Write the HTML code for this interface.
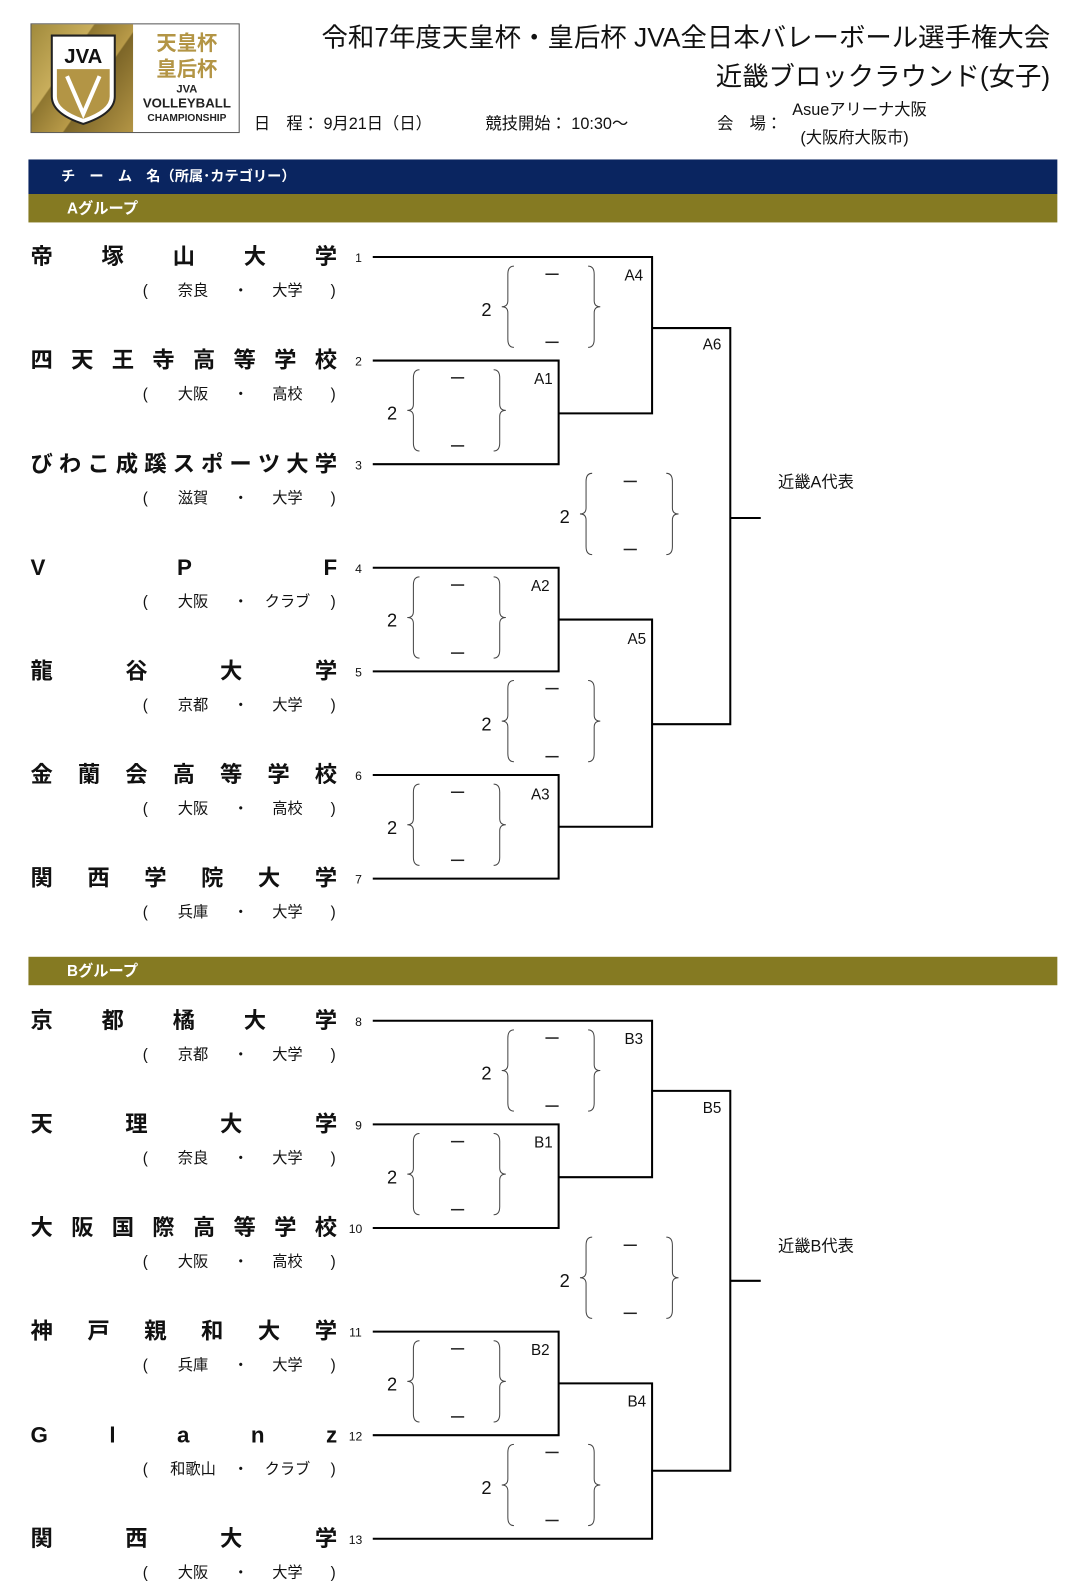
<!DOCTYPE html>
<html><head><meta charset="utf-8">
<style>
html,body{margin:0;padding:0;width:1086px;height:1593px;overflow:hidden;background:#fff}
#w{position:relative;width:1086px;height:1593px;overflow:hidden;font-family:"Liberation Sans","Noto Sans CJK JP",sans-serif;color:#111;transform:scale(1.0157);transform-origin:0 0}
.a{position:absolute}
.tn{position:absolute;left:30px;width:302px;display:flex;justify-content:space-between;font-weight:bold;font-size:22px;line-height:26px;height:26px}
.sub{position:absolute;left:0;width:340px;height:20px;font-size:15px;line-height:20px}
.sub span{position:absolute;top:0;transform:translateX(-50%);white-space:nowrap}
svg{position:absolute;left:0;top:0;display:block}
</style></head><body><div id="w">
<div class="a" style="left:30px;top:23px;width:206px;height:108px;border:1px solid #555;background:#fff;box-sizing:border-box"></div>
<div class="a" style="left:31px;top:24px;width:100px;height:106px;background:linear-gradient(125deg,#a08a3c 0%,#c9ae5c 35%,#8e7630 36%,#b89a48 60%,#7d6628 61%,#b39545 100%)"></div>
<svg width="1086" height="1593" style="pointer-events:none">
<path d="M51,35 L113,35 L113,95 Q113,112 82,122 Q51,112 51,95 Z" fill="#fff" stroke="#222" stroke-width="2"/>
<path d="M56,68 L108,68 L108,95 Q108,108 82,117 Q56,108 56,95 Z" fill="#b39545"/>
<text x="82" y="62" text-anchor="middle" font-family="Liberation Sans" font-weight="bold" font-size="20" fill="#111">JVA</text>
<path d="M66,75 L82,112 L98,75" fill="none" stroke="#fff" stroke-width="4"/>
</svg>
<div class="a" style="left:134px;top:30px;width:100px;text-align:center;color:#b39545;font-weight:bold;font-size:20px;line-height:26px">天皇杯<br>皇后杯</div>
<div class="a" style="left:134px;top:82px;width:100px;text-align:center;font-weight:bold;font-size:11px;line-height:13px;color:#222">JVA<br><span style="font-size:13px">VOLLEYBALL</span><br><span style="font-size:10px">CHAMPIONSHIP</span></div>
<div class="a" style="right:52px;top:18px;font-size:26px;line-height:38px;text-align:right;white-space:nowrap">令和7年度天皇杯・皇后杯 JVA全日本バレーボール選手権大会<br>近畿ブロックラウンド(女子)</div>
<div class="a" style="left:250px;top:108px;font-size:16px;white-space:nowrap">日　程： 9月21日（日）</div>
<div class="a" style="left:478px;top:108px;font-size:16px;white-space:nowrap">競技開始： 10:30〜</div>
<div class="a" style="left:706px;top:108px;font-size:16px;white-space:nowrap">会　場：</div>
<div class="a" style="left:780px;top:94px;font-size:16px;white-space:nowrap">Asueアリーナ大阪</div>
<div class="a" style="left:788px;top:122px;font-size:16px;white-space:nowrap">(大阪府大阪市)</div>
<div class="a" style="left:28px;top:157px;width:1013px;height:34px;background:#0a2560"></div>
<div class="a" style="left:60px;top:163px;color:#fff;font-weight:bold;font-size:14px;white-space:nowrap">チ　ー　ム　名（所属･カテゴリー）</div>
<div class="a" style="left:28px;top:191px;width:1013px;height:28px;background:#857a22"></div>
<div class="a" style="left:66px;top:194px;color:#fff;font-weight:bold;font-size:15px">Aグループ</div>
<div class="a" style="left:28px;top:942px;width:1013px;height:28px;background:#857a22"></div>
<div class="a" style="left:66px;top:945px;color:#fff;font-weight:bold;font-size:15px">Bグループ</div>

<div class="tn" style="top:240px"><span>帝</span><span>塚</span><span>山</span><span>大</span><span>学</span></div>
<div class="tn" style="top:342px"><span>四</span><span>天</span><span>王</span><span>寺</span><span>高</span><span>等</span><span>学</span><span>校</span></div>
<div class="tn" style="top:444px"><span>び</span><span>わ</span><span>こ</span><span>成</span><span>蹊</span><span>ス</span><span>ポ</span><span>ー</span><span>ツ</span><span>大</span><span>学</span></div>
<div class="tn" style="top:546px"><span>V</span><span>P</span><span>F</span></div>
<div class="tn" style="top:648px"><span>龍</span><span>谷</span><span>大</span><span>学</span></div>
<div class="tn" style="top:750px"><span>金</span><span>蘭</span><span>会</span><span>高</span><span>等</span><span>学</span><span>校</span></div>
<div class="tn" style="top:852px"><span>関</span><span>西</span><span>学</span><span>院</span><span>大</span><span>学</span></div>
<div class="tn" style="top:992px"><span>京</span><span>都</span><span>橘</span><span>大</span><span>学</span></div>
<div class="tn" style="top:1094px"><span>天</span><span>理</span><span>大</span><span>学</span></div>
<div class="tn" style="top:1196px"><span>大</span><span>阪</span><span>国</span><span>際</span><span>高</span><span>等</span><span>学</span><span>校</span></div>
<div class="tn" style="top:1298px"><span>神</span><span>戸</span><span>親</span><span>和</span><span>大</span><span>学</span></div>
<div class="tn" style="top:1400px"><span>G</span><span>l</span><span>a</span><span>n</span><span>z</span></div>
<div class="tn" style="top:1502px"><span>関</span><span>西</span><span>大</span><span>学</span></div>

<div class="sub" style="top:277px"><span style="left:143px">(</span><span style="left:190px">奈良</span><span style="left:237px">・</span><span style="left:283px">大学</span><span style="left:328px">)</span></div>
<div class="sub" style="top:379px"><span style="left:143px">(</span><span style="left:190px">大阪</span><span style="left:237px">・</span><span style="left:283px">高校</span><span style="left:328px">)</span></div>
<div class="sub" style="top:481px"><span style="left:143px">(</span><span style="left:190px">滋賀</span><span style="left:237px">・</span><span style="left:283px">大学</span><span style="left:328px">)</span></div>
<div class="sub" style="top:583px"><span style="left:143px">(</span><span style="left:190px">大阪</span><span style="left:237px">・</span><span style="left:283px">クラブ</span><span style="left:328px">)</span></div>
<div class="sub" style="top:685px"><span style="left:143px">(</span><span style="left:190px">京都</span><span style="left:237px">・</span><span style="left:283px">大学</span><span style="left:328px">)</span></div>
<div class="sub" style="top:787px"><span style="left:143px">(</span><span style="left:190px">大阪</span><span style="left:237px">・</span><span style="left:283px">高校</span><span style="left:328px">)</span></div>
<div class="sub" style="top:889px"><span style="left:143px">(</span><span style="left:190px">兵庫</span><span style="left:237px">・</span><span style="left:283px">大学</span><span style="left:328px">)</span></div>
<div class="sub" style="top:1029px"><span style="left:143px">(</span><span style="left:190px">京都</span><span style="left:237px">・</span><span style="left:283px">大学</span><span style="left:328px">)</span></div>
<div class="sub" style="top:1131px"><span style="left:143px">(</span><span style="left:190px">奈良</span><span style="left:237px">・</span><span style="left:283px">大学</span><span style="left:328px">)</span></div>
<div class="sub" style="top:1233px"><span style="left:143px">(</span><span style="left:190px">大阪</span><span style="left:237px">・</span><span style="left:283px">高校</span><span style="left:328px">)</span></div>
<div class="sub" style="top:1335px"><span style="left:143px">(</span><span style="left:190px">兵庫</span><span style="left:237px">・</span><span style="left:283px">大学</span><span style="left:328px">)</span></div>
<div class="sub" style="top:1437px"><span style="left:143px">(</span><span style="left:190px">和歌山</span><span style="left:237px">・</span><span style="left:283px">クラブ</span><span style="left:328px">)</span></div>
<div class="sub" style="top:1539px"><span style="left:143px">(</span><span style="left:190px">大阪</span><span style="left:237px">・</span><span style="left:283px">大学</span><span style="left:328px">)</span></div>

<svg width="1086" height="1593" font-family="Liberation Sans, Noto Sans CJK JP, sans-serif">
<defs>
<g id="br" fill="none" stroke="#444" stroke-width="1">
<path d="M6,0 Q0,0 0,8 L0,34 Q0,40 -6,40 Q0,40 0,46 L0,72 Q0,80 6,80"/>
<path d="M79,0 Q85,0 85,8 L85,34 Q85,40 91,40 Q85,40 85,46 L85,72 Q85,80 79,80"/>
<line x1="37" y1="8" x2="50" y2="8" stroke="#222" stroke-width="1.5"/>
<line x1="37" y1="75" x2="50" y2="75" stroke="#222" stroke-width="1.5"/>
</g>
</defs>
<g fill="none" stroke="#000" stroke-width="2">
<polyline points="367,253 642,253 642,407 550,407"/>
<polyline points="367,355 550,355 550,457 367,457"/>
<polyline points="642,323 719,323 719,713 642,713"/>
<line x1="719" y1="510" x2="749" y2="510"/>
<polyline points="367,559 550,559 550,661 367,661"/>
<polyline points="550,610 642,610 642,814 550,814"/>
<polyline points="367,763 550,763 550,865 367,865"/>
<polyline points="367,1005 642,1005 642,1159 550,1159"/>
<polyline points="367,1107 550,1107 550,1209 367,1209"/>
<polyline points="642,1074 719,1074 719,1448 642,1448"/>
<line x1="719" y1="1261" x2="749" y2="1261"/>
<polyline points="367,1311 550,1311 550,1413 367,1413"/>
<polyline points="550,1362 642,1362 642,1515 367,1515"/>
</g>
<use href="#br" x="500" y="262"/><use href="#br" x="407" y="364"/><use href="#br" x="577" y="466"/>
<use href="#br" x="407" y="568"/><use href="#br" x="500" y="670"/><use href="#br" x="407" y="772"/>
<use href="#br" x="500" y="1014"/><use href="#br" x="407" y="1116"/><use href="#br" x="577" y="1218"/>
<use href="#br" x="407" y="1320"/><use href="#br" x="500" y="1422"/>
<g font-size="18" fill="#111" text-anchor="middle">
<text x="479" y="311">2</text><text x="386" y="413">2</text><text x="556" y="515">2</text>
<text x="386" y="617">2</text><text x="479" y="719">2</text><text x="386" y="821">2</text>
<text x="479" y="1063">2</text><text x="386" y="1165">2</text><text x="556" y="1267">2</text>
<text x="386" y="1369">2</text><text x="479" y="1471">2</text>
</g>
<g font-size="15" fill="#111" text-anchor="middle">
<text x="624" y="276">A4</text><text x="535" y="378">A1</text><text x="701" y="344">A6</text>
<text x="532" y="582">A2</text><text x="627" y="634">A5</text><text x="532" y="787">A3</text>
<text x="624" y="1028">B3</text><text x="535" y="1130">B1</text><text x="701" y="1096">B5</text>
<text x="532" y="1334">B2</text><text x="627" y="1385">B4</text>
</g>
<g font-size="16" fill="#111">
<text x="766" y="480">近畿A代表</text><text x="766" y="1232">近畿B代表</text>
</g>
<g font-size="12" fill="#111" text-anchor="middle">
<text x="353" y="258">1</text><text x="353" y="360">2</text><text x="353" y="462">3</text><text x="353" y="564">4</text>
<text x="353" y="666">5</text><text x="353" y="768">6</text><text x="353" y="870">7</text>
<text x="353" y="1010">8</text><text x="353" y="1112">9</text><text x="350" y="1214">10</text>
<text x="350" y="1316">11</text><text x="350" y="1418">12</text><text x="350" y="1520">13</text>
</g>
</svg>
</div></body></html>
